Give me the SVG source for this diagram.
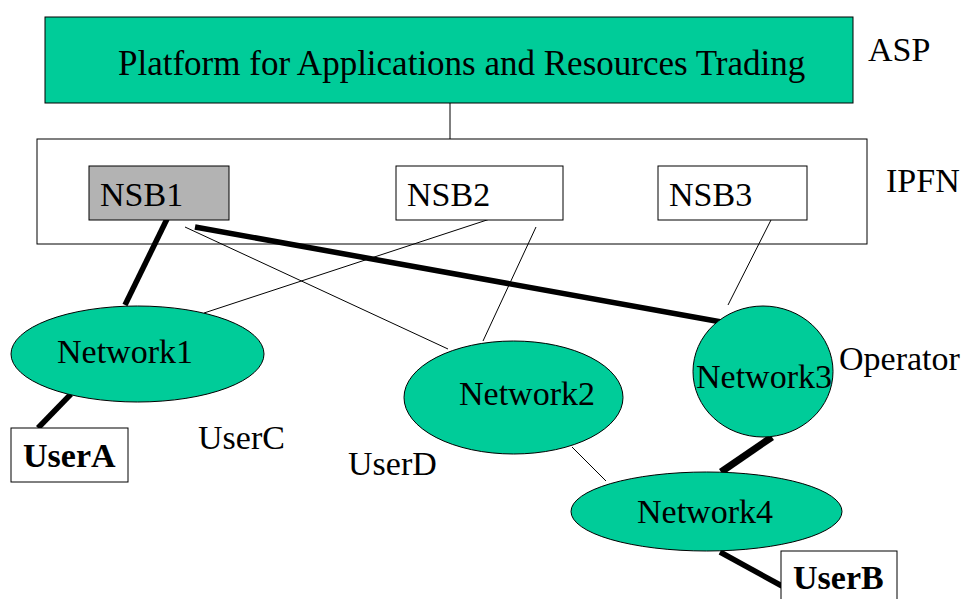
<svg xmlns="http://www.w3.org/2000/svg" width="964" height="599" viewBox="0 0 964 599">
<style>
text{font-family:"Liberation Serif","Times New Roman",serif;font-size:34px;fill:#000}
.b{font-weight:bold}
.net{fill:#00cc99;stroke:#000;stroke-width:1}
.box{fill:#fff;stroke:#000;stroke-width:1}
.thin{stroke:#000;stroke-width:1;fill:none}
.thick{stroke:#000;stroke-width:5.5;fill:none}
</style>
<rect width="964" height="599" fill="#fff"/>
<g id="ipfn">
<rect x="37" y="139" width="830" height="105" style="fill:none;stroke:#000;stroke-width:1"/>
</g>
<g id="connectors">
<line class="thin" x1="450" y1="103" x2="450" y2="139"/>
<line class="thick" x1="167" y1="219" x2="125" y2="305"/>
<line class="thick" x1="195" y1="227" x2="727" y2="323"/>
<line class="thin" x1="185" y1="227" x2="448" y2="349"/>
<line class="thin" x1="493" y1="218" x2="204" y2="313"/>
<line class="thin" x1="536" y1="227" x2="483" y2="341"/>
<line class="thin" x1="772" y1="218" x2="728" y2="305"/>
<line class="thick" x1="71" y1="394" x2="38" y2="428"/>
<line class="thick" x1="772" y1="437" x2="721" y2="472" style="stroke-width:7"/>
<line class="thin" x1="572" y1="447" x2="606" y2="481"/>
<line class="thick" x1="720" y1="552" x2="782" y2="586"/>
</g>
<g id="platform">
<rect x="45" y="17" width="808" height="86" class="net"/>
<text x="118" y="75" style="font-size:35px">Platform for Applications and Resources Trading</text>
</g>
<g id="asp"><text x="868" y="61">ASP</text></g>
<g id="ipfn-label"><text x="886" y="192">IPFN</text></g>
<g id="nsb1">
<rect x="89" y="166" width="140" height="54" style="fill:#b3b3b3;stroke:#000"/>
<text x="100" y="206">NSB1</text>
</g>
<g id="nsb2">
<rect x="396" y="166" width="167" height="54" class="box"/>
<text x="407" y="206">NSB2</text>
</g>
<g id="nsb3">
<rect x="658" y="166" width="149" height="54" class="box"/>
<text x="669" y="206">NSB3</text>
</g>
<g id="network1">
<ellipse cx="137.5" cy="354" rx="126.5" ry="48" class="net"/>
<text x="57" y="363">Network1</text>
</g>
<g id="network2">
<ellipse cx="513.5" cy="397.5" rx="109.5" ry="56.5" class="net"/>
<text x="459" y="405">Network2</text>
</g>
<g id="network3">
<ellipse cx="763" cy="371.5" rx="70" ry="65.5" class="net"/>
<text x="696" y="388">Network3</text>
</g>
<g id="operator"><text x="839" y="370">Operator</text></g>
<g id="network4">
<ellipse cx="706.5" cy="511.5" rx="135.5" ry="39.5" class="net"/>
<text x="637" y="523">Network4</text>
</g>
<g id="userA">
<rect x="11" y="428" width="117" height="54" class="box"/>
<text x="23" y="467" class="b">UserA</text>
</g>
<g id="userB">
<rect x="781" y="551" width="116" height="60" class="box"/>
<text x="793" y="589" class="b">UserB</text>
</g>
<g id="userC"><text x="198" y="449">UserC</text></g>
<g id="userD"><text x="348" y="475">UserD</text></g>
</svg>
